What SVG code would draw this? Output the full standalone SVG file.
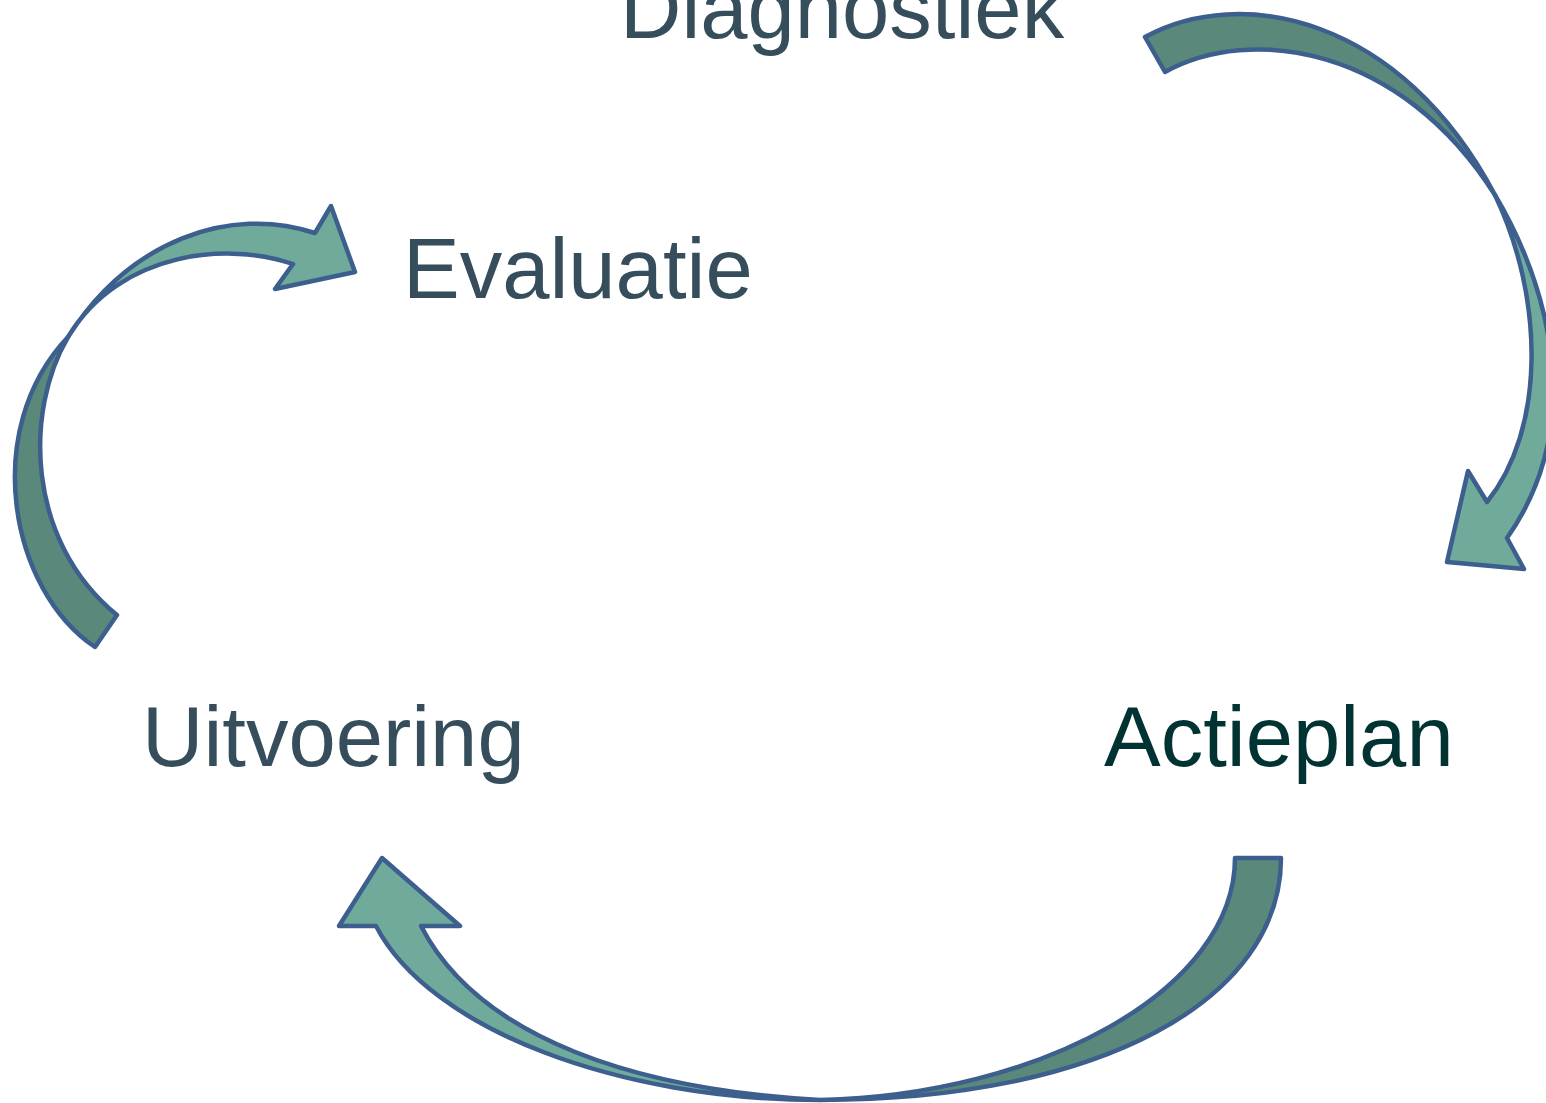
<svg xmlns="http://www.w3.org/2000/svg" width="1546" height="1103" viewBox="0 0 1546 1103">
<style>
.lbl{font-family:"Liberation Sans",Arial,sans-serif;font-size:85px;fill:#364e5c}
.dark{fill:#5a887a;stroke:#3c5f8e;stroke-width:4.5;stroke-linejoin:round}
.light{fill:#6faa9a;stroke:#3c5f8e;stroke-width:4.5;stroke-linejoin:round}
</style>
<rect width="1546" height="1103" fill="#ffffff"/>
<g id="connectors">
<g id="arrow-diagnostiek-actieplan">
<path class="dark" d="M1145,37 C1240,-15 1400,15 1495,195 C1400,45 1250,25 1165,72 Z"/>
<path class="light" d="M1495,195 C1545,280 1590,420 1507,538 L1524,569 L1447,562 L1468,471 L1487,502 C1545,430 1545,300 1495,195 Z"/>
</g>
<g id="arrow-actieplan-uitvoering">
<path class="dark" d="M1235,858 L1281,858 C1281,1000 1100,1100 820,1100 C1040,1095 1235,990 1235,858 Z"/>
<path class="light" d="M820,1100 C620,1100 430,1030 376,926 L339,926 L382,858 L460,926 L421,926 C480,1040 640,1090 820,1100 Z"/>
</g>
<g id="arrow-uitvoering-evaluatie">
<path class="dark" d="M95,647 C10,590 -20,430 68,337 C25,410 25,540 117,615 Z"/>
<path class="light" d="M68,337 C130,240 230,205 315,233 L331,206 L355,272 L275,289 L293,264 C230,242 120,250 68,337 Z"/>
</g>
</g>
<g id="node-diagnostiek"><text class="lbl" x="620" y="38">Diagnostiek</text></g>
<g id="node-evaluatie"><text class="lbl" x="403" y="298">Evaluatie</text></g>
<g id="node-uitvoering"><text class="lbl" x="142" y="766">Uitvoering</text></g>
<g id="node-actieplan"><text class="lbl" x="1104" y="766" style="fill:#003331">Actieplan</text></g>
</svg>
